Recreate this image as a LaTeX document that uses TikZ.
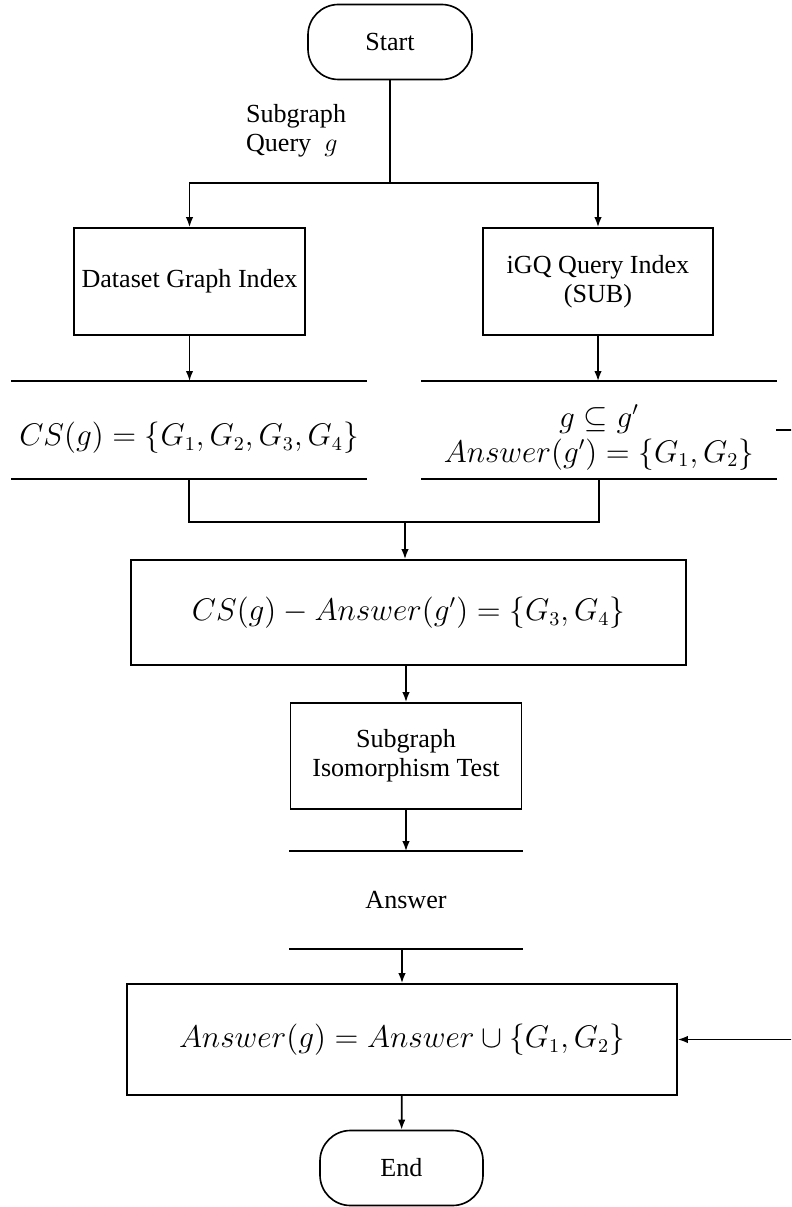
\documentclass[tikz,border=0pt]{standalone}
\usepackage[no-math]{fontspec}
\setmainfont{Liberation Serif}
\usetikzlibrary{arrows.meta}
% one drawing unit of the layout grid
\def\pxu{0.46pt}
\begin{document}
\begin{tikzpicture}[x=0.46pt,y=-0.46pt,
  every node/.style={font=\fontsize{12}{13.5}\selectfont, line width=0.75pt},
  wire/.style={draw, line width=0.75pt},
  arr/.style={wire, -{Latex[length=4.6pt,width=3.4pt]}},
  box/.style={draw, align=center, inner sep=2pt},
  term/.style={draw, rounded corners=14pt, minimum width=164*\pxu, minimum height=75*\pxu},
  % data store: open on both sides; #1 lifts the two rules above the text centre
  store/.style={align=center, inner sep=0pt,
    append after command={([yshift=#1]\tikzlastnode.north west) edge[wire] ([yshift=#1]\tikzlastnode.north east)
                          ([yshift=#1]\tikzlastnode.south west) edge[wire] ([yshift=#1]\tikzlastnode.south east)}},
  store/.default=0pt,
  mth/.style={font=\fontsize{13.5}{16}\selectfont}]
\clip (0,0) rectangle (791,1207);

% terminals and process boxes
\node[term] (start) at (390,42) {Start};
\coordinate (split) at (390,183);
\node[anchor=west, align=left] (qlabel) at (238,131) {Subgraph\\Query~ $g$};

\node[box, minimum width=231*\pxu, minimum height=107*\pxu] (dgi) at (189.5,281.5) {Dataset Graph Index};
\node[box, minimum width=230*\pxu, minimum height=107*\pxu] (igq) at (598,281.5) {iGQ Query Index\\(SUB)};

% data stores
\node[store=3.5pt, mth, minimum width=354*\pxu, minimum height=96*\pxu] (cs) at (189,437.5)
  {$CS(g)=\{G_1,G_2,G_3,G_4\}$};
\node[store=3.5pt, mth, minimum width=354*\pxu, minimum height=96*\pxu] (sup) at (599,437.5)
  {$g\subseteq g'$\\$Answer(g')=\{G_1,G_2\}$};

\coordinate (merge) at (405,522);
\node[box, mth, minimum width=555*\pxu, minimum height=105*\pxu] (diff) at (408.5,612.5)
  {$CS(g)-Answer(g')=\{G_3,G_4\}$};
\node[box, minimum width=231*\pxu, minimum height=106*\pxu] (iso) at (406,756)
  {Subgraph\\Isomorphism Test};
\node[store, minimum width=232*\pxu, minimum height=96*\pxu] (ans) at (406,900) {Answer};
\node[box, mth, minimum width=550*\pxu, minimum height=111*\pxu] (final) at (402,1039.5)
  {$Answer(g)=Answer\cup\{G_1,G_2\}$};
\node[term, minimum width=163*\pxu] (end) at (401.5,1168) {End};

% connectors
\coordinate (cstop) at ([yshift=3.5pt]cs.north);
\coordinate (csbot) at ([yshift=3.5pt]cs.south);
\coordinate (suptop) at ([yshift=3.5pt]sup.north);
\coordinate (supbot) at ([yshift=3.5pt]sup.south);
\coordinate (supright) at (776,430);
\draw[wire] (start) -- (split);
\draw[arr] (split) -| (dgi);
\draw[arr] (split) -| (igq);
\draw[arr] (dgi.south) -- (dgi.south |- cstop);
\draw[arr] (igq.south) -- (igq.south |- suptop);
\draw[wire] (csbot) |- (merge) -| (supbot);
\draw[arr] (merge) -- (merge |- diff.north);
\draw[arr] (iso.north |- diff.south) -- (iso.north);
\draw[arr] (iso.south) -- (iso.south |- ans.north);
\draw[arr] (final.north |- ans.south) -- (final.north);
\draw[arr] (final) -- (end);
\coordinate (loop) at (840,430);
\draw[arr] (supright) -- (loop) |- (final.east);
\end{tikzpicture}
\end{document}
